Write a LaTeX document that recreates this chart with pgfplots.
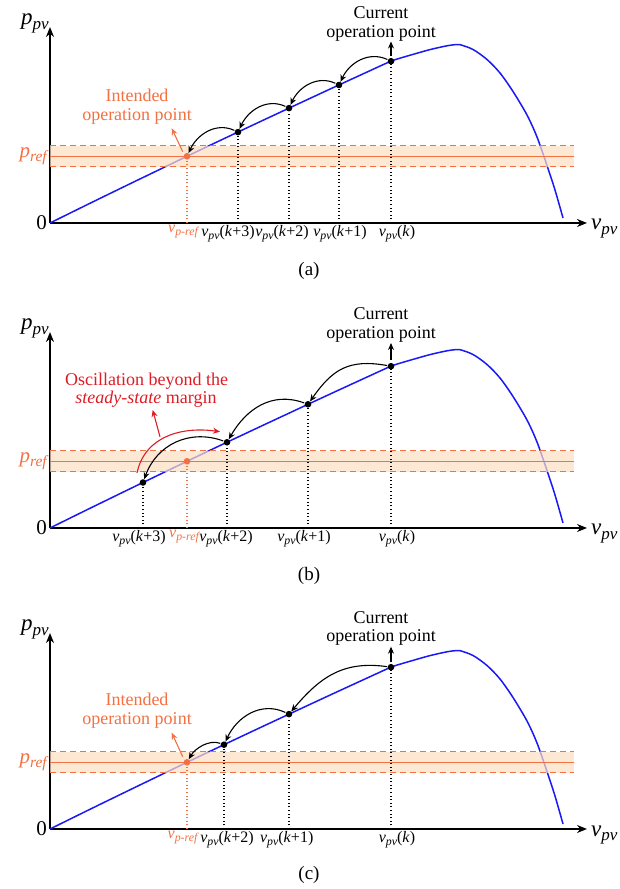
\documentclass[border=0pt]{standalone}
\usepackage{fontspec}
\setmainfont{Liberation Serif}
\usepackage{graphicx}
\usepackage{pgfplots}
\usepackage{pgfplotstable}
\pgfplotsset{compat=1.18}
\usetikzlibrary{arrows.meta}

\definecolor{oran}{RGB}{243,112,66}
\definecolor{bandc}{RGB}{252,222,194}
\definecolor{redt}{RGB}{222,28,36}
\definecolor{pvblue}{RGB}{25,25,245}

\newcommand{\sbs}[1]{\raisebox{-0.45ex}{\scalebox{0.74}{\itshape #1}}}
\newcommand{\vpv}{\textit{v}\sbs{pv}}
\newcommand{\vref}{{\color{oran}\textit{v}\sbs{p-ref}}}

\pgfplotstableread{
x y
0 0
40 19.7
80 39.2
120 58.5
160 77.7
200 96.6
240 115.3
280 133.9
320 152.3
341 161.8
352 165.4
363 168.6
380 173.4
397 177.2
405 178.3
410 178.3
423 173.5
437 163.5
450 150
463 131.5
477 108
487 86
497 57.5
505 33
513 5
}\curve

\tikzset{
  arcst/.style={-{Stealth[length=7pt,width=6pt]}, line width=1.1pt, shorten <=4pt, shorten >=3.5pt},
  txt/.style={font=\fontsize{18}{19}\selectfont, anchor=base, inner sep=0pt},
}
\pgfplotsset{
  pvax/.style={
    scale only axis, width=537pt, height=196pt,
    xmin=0, xmax=537, ymin=0, ymax=196,
    axis lines=left,
    axis line style={line width=2pt, -{Stealth[length=10pt,width=8pt]}},
    clip=false, anchor=south west,
    major tick length=0pt,
    ytick={0,66.5},
    yticklabels={0,{\color{oran}\textit{p}\sbs{ref}}},
    xticklabel style={font=\fontsize{16}{17}\selectfont, anchor=north, inner sep=2pt},
    yticklabel style={font=\fontsize{21}{22}\selectfont, inner sep=3pt},
  },
}

\newcommand{\commonplots}{%
  \addplot[pvblue, line width=1.5pt, smooth] table {\curve};
  \addplot[draw=none, fill=bandc, fill opacity=0.7] coordinates {(0,56)(524,56)(524,77)(0,77)};
  \addplot[oran, line width=1pt, dash pattern=on 6pt off 4pt] coordinates {(0,77)(524,77)};
  \addplot[oran, line width=1pt, dash pattern=on 6pt off 4pt] coordinates {(0,56)(524,56)};
  \addplot[oran, line width=1.3pt] coordinates {(0,66.5)(524,66.5)};
  \addplot[ycomb, oran, line width=1.1pt, dash pattern=on 1pt off 2.6pt, mark=*, mark size=2.7pt, mark options={solid, fill=oran}] coordinates {(137,66.7)};
  \node[anchor=base east, inner sep=0pt, font=\fontsize{23}{24}\selectfont] at (axis cs:-1,198) {\textit{p}\sbs{pv}};
  \node[anchor=base west, inner sep=0pt, font=\fontsize{23}{24}\selectfont] at (axis cs:541,-7) {\textit{v}\sbs{pv}};
}

\begin{document}
\begin{tikzpicture}
\path (0,0) rectangle (619pt,889pt);

% ---------------- (a)
\begin{axis}[pvax, at={(50pt,666pt)},
  xtick={133,178,232,290,347},
  xticklabels={\vref, \vpv(\textit{k}+3), \vpv(\textit{k}+2), \vpv(\textit{k}+1), \vpv(\textit{k})}]
\commonplots
\addplot[ycomb, black, line width=1.1pt, dash pattern=on 1pt off 2.6pt, mark=*, mark size=2.7pt, mark options={solid, fill=black}]
  coordinates {(188,90.9)(239,114.9)(289,138.0)(341,161.8)};
\draw[arcst] (axis cs:341,161.8) to[out=155,in=65,looseness=1.1] (axis cs:289,138.0);
\draw[arcst] (axis cs:289,138.0) to[out=155,in=65,looseness=1.1] (axis cs:239,114.9);
\draw[arcst] (axis cs:239,114.9) to[out=155,in=65,looseness=1.1] (axis cs:188,90.9);
\draw[arcst] (axis cs:188,90.9) to[out=155,in=65,looseness=1.1] (axis cs:137,66.7);
\draw[-{Stealth[length=7pt,width=6pt]}, line width=1.1pt] (axis cs:341,166.5) -- (axis cs:341,181.5);
\node[txt] at (axis cs:331,204.7) {Current};
\node[txt] at (axis cs:331,185.7) {operation point};
\draw[oran, -{Stealth[length=7pt,width=6pt]}, line width=1.1pt] (axis cs:132.7,71.3) -- (axis cs:121.7,94.7);
\node[txt, text=oran] at (axis cs:87,121.5) {Intended};
\node[txt, text=oran] at (axis cs:87,102.5) {operation point};
\node[font=\fontsize{19}{20}\selectfont] at (axis cs:259,-47.7) {(a)};
\end{axis}

% ---------------- (b)
\begin{axis}[pvax, at={(50pt,361pt)},
  xtick={89,134,176,254,347},
  xticklabels={\vpv(\textit{k}+3), \vref, \vpv(\textit{k}+2), \vpv(\textit{k}+1), \vpv(\textit{k})}]
\commonplots
\addplot[ycomb, black, line width=1.1pt, dash pattern=on 1pt off 2.6pt, mark=*, mark size=2.7pt, mark options={solid, fill=black}]
  coordinates {(93,45.5)(177,85.7)(258,123.7)(341,161.8)};
\draw[arcst] (axis cs:341,161.8) to[out=170,in=55,looseness=1.2] (axis cs:258,123.7);
\draw[arcst] (axis cs:258,123.7) to[out=160,in=60,looseness=1.1] (axis cs:177,85.7);
\draw[arcst] (axis cs:177,85.7) to[out=160,in=70,looseness=1.1] (axis cs:93,45.5);
\draw[redt, -{Stealth[length=7pt,width=6pt]}, line width=1.1pt] (axis cs:87,55) to[out=78,in=172,looseness=1.05] (axis cs:170,96.3);
\draw[redt, -{Stealth[length=7pt,width=6pt]}, line width=1.1pt] (axis cs:110,91.3) -- (axis cs:102.7,118);
\node[txt, text=redt] at (axis cs:96.7,142) {Oscillation beyond the};
\node[txt, text=redt] at (axis cs:96,124) {\textit{steady-state} margin};
\draw[-{Stealth[length=7pt,width=6pt]}, line width=1.1pt] (axis cs:341,168) -- (axis cs:341,185);
\node[txt] at (axis cs:331,208) {Current};
\node[txt] at (axis cs:331,189) {operation point};
\node[font=\fontsize{19}{20}\selectfont] at (axis cs:259,-47.5) {(b)};
\end{axis}

% ---------------- (c)
\begin{axis}[pvax, at={(50pt,60pt)},
  xtick={132.5,177,236.7,347},
  xticklabels={\vref, \vpv(\textit{k}+2), \vpv(\textit{k}+1), \vpv(\textit{k})}]
\commonplots
\addplot[ycomb, black, line width=1.1pt, dash pattern=on 1pt off 2.6pt, mark=*, mark size=2.7pt, mark options={solid, fill=black}]
  coordinates {(174,84.3)(239,114.9)(341,161.8)};
\draw[arcst] (axis cs:341,161.8) to[out=172,in=50,looseness=1.1] (axis cs:239,114.9);
\draw[arcst] (axis cs:239,114.9) to[out=155,in=65,looseness=1.1] (axis cs:174,84.3);
\draw[arcst] (axis cs:174,84.3) to[out=160,in=60,looseness=1.0] (axis cs:137,66.7);
\draw[-{Stealth[length=7pt,width=6pt]}, line width=1.1pt] (axis cs:341,167.3) -- (axis cs:341,182.3);
\node[txt] at (axis cs:331,205.7) {Current};
\node[txt] at (axis cs:331,187.3) {operation point};
\draw[oran, -{Stealth[length=7pt,width=6pt]}, line width=1.1pt] (axis cs:132.7,72.3) -- (axis cs:121.7,96.3);
\node[txt, text=oran] at (axis cs:87,123) {Intended};
\node[txt, text=oran] at (axis cs:87,104) {operation point};
\node[font=\fontsize{19}{20}\selectfont] at (axis cs:259,-46) {(c)};
\end{axis}
\end{tikzpicture}
\end{document}
